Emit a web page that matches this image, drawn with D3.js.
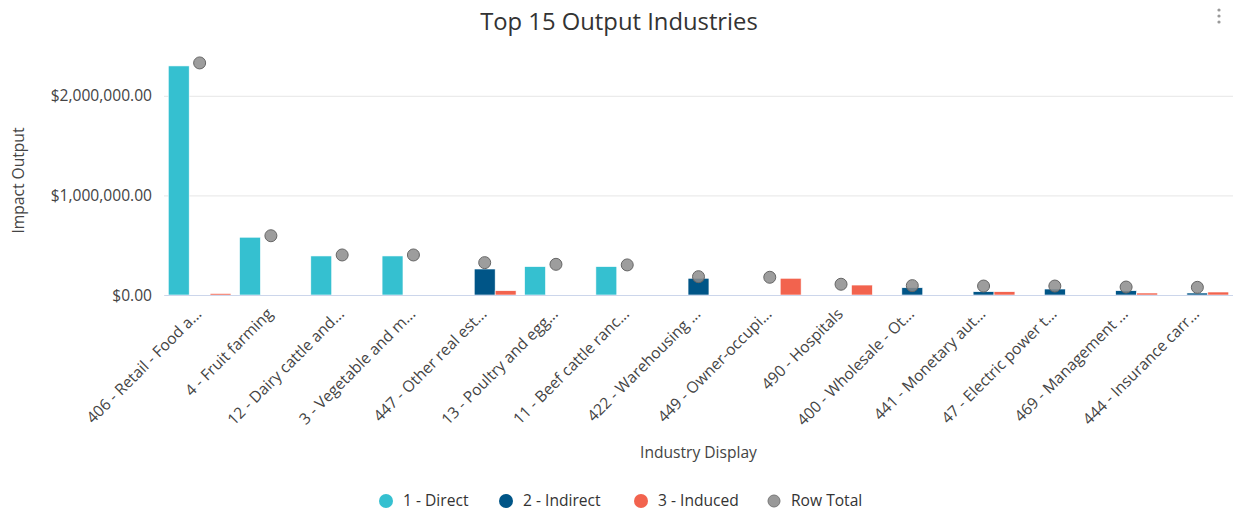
<!DOCTYPE html>
<html>
<head>
<meta charset="utf-8">
<script src="https://cdn.jsdelivr.net/npm/d3@7"></script>
<style>
  html, body { margin: 0; padding: 0; background: #fff; }
  svg { display: block; font-family: "Open Sans", sans-serif; }
</style>
</head>
<body>
<svg id="chart" width="1233" height="512"></svg>
<script>
const categories = [
  "406 - Retail - Food a...", "4 - Fruit farming", "12 - Dairy cattle and...",
  "3 - Vegetable and m...", "447 - Other real est...", "13 - Poultry and egg...",
  "11 - Beef cattle ranc...", "422 - Warehousing ...", "449 - Owner-occupi...",
  "490 - Hospitals", "400 - Wholesale - Ot...", "441 - Monetary aut...",
  "47 - Electric power t...", "469 - Management ...", "444 - Insurance carr..."
];
const direct   = [2300000, 580000, 392000, 392000, 0, 285000, 285000, 0, 0, 0, 0, 0, 0, 0, 0];
const indirect = [0, 0, 0, 0, 261000, 0, 0, 168000, 0, 0, 73000, 33000, 60000, 43000, 20000];
const induced  = [15000, 0, 0, 0, 43000, 0, 0, 0, 168000, 100000, 0, 33000, 0, 20000, 30000];
const rowTotal = [2330000, 595000, 402000, 402000, 325000, 308000, 302000, 184000, 178000, 108000, 94000, 90000, 90000, 80000, 77000];
const yTicks = [0, 1000000, 2000000];
const seriesNames = ["1 - Direct", "2 - Indirect", "3 - Induced"];
const seriesColors = ["#35c0d0", "#005587", "#f2634e"];
const totalName = "Row Total";

(function () {
const svg = d3.select("#chart");
const pLeft = 164, pRight = 1233, pTop = 46, pBottom = 295;
const fs = 15.6;

const x = d3.scaleBand().domain(categories).range([pLeft, pRight]).paddingInner(0.12).paddingOuter(0.06);
const xs = d3.scaleBand().domain(seriesNames).range([0, x.bandwidth()]);
const y = d3.scaleLinear().domain([0, 2500000]).range([pBottom, pTop]);

// Title
svg.append("text").attr("x", 619).attr("y", 30).attr("text-anchor", "middle")
  .attr("font-size", 23.8).attr("fill", "#333").text("Top 15 Output Industries");

// Menu icon
const menu = svg.append("g").attr("fill", "#999");
[10, 16, 22].forEach(cy => menu.append("circle").attr("cx", 1219).attr("cy", cy).attr("r", 1.6));

// Grid + y axis
const yAxis = d3.axisLeft(y).tickValues(yTicks).tickSize(-(pRight - pLeft))
  .tickFormat(d => "$" + d3.format(",.2f")(d));
const gy = svg.append("g").attr("transform", `translate(${pLeft},0)`).call(yAxis);
gy.select(".domain").remove();
gy.selectAll(".tick line").attr("stroke", "#e6e6e6");
gy.selectAll(".tick text").attr("x", -12).attr("font-size", fs).attr("fill", "#444")
  .attr("font-family", "Open Sans, sans-serif");

// Y title
svg.append("text").attr("transform", `translate(24,${(pTop + pBottom) / 2 + 10}) rotate(-90)`)
  .attr("text-anchor", "middle").attr("font-size", fs).attr("fill", "#444").text("Impact Output");

// Bars
const seriesData = [direct, indirect, induced];
const gBars = svg.append("g");
seriesData.forEach((vals, si) => {
  gBars.selectAll(null).data(categories.map((c, i) => ({ c, v: vals[i] })).filter(d => d.v > 0))
    .enter().append("rect")
    .attr("x", d => x(d.c) + xs(seriesNames[si]))
    .attr("width", xs.bandwidth())
    .attr("y", d => y(d.v))
    .attr("height", d => pBottom - y(d.v))
    .attr("fill", seriesColors[si])
    .attr("stroke", "#fff").attr("stroke-width", 0.6);
});

// X axis line
const xAxis = d3.axisBottom(x).tickSize(0).tickFormat("");
const gx = svg.append("g").attr("transform", `translate(0,${pBottom})`).call(xAxis);
gx.select(".domain").attr("stroke", "#ccd6eb");

// X labels
svg.append("g").selectAll("text").data(categories).enter().append("text")
  .attr("transform", d => `translate(${x(d) + x.bandwidth() / 2 - 1},${pBottom + 16}) rotate(-45)`)
  .attr("text-anchor", "end").attr("dy", "0.35em")
  .attr("font-size", fs).attr("fill", "#444").text(d => d);

// X title
svg.append("text").attr("x", (pLeft + pRight) / 2).attr("y", 458).attr("text-anchor", "middle")
  .attr("font-size", fs).attr("fill", "#444").text("Industry Display");

// Row total points
svg.append("g").selectAll("circle").data(categories.map((c, i) => ({ c, v: rowTotal[i] })))
  .enter().append("circle")
  .attr("cx", d => x(d.c) + x.bandwidth() / 2)
  .attr("cy", d => y(d.v))
  .attr("r", 6)
  .attr("fill", "rgba(140,140,140,0.85)")
  .attr("stroke", "#666").attr("stroke-width", 1);

// Legend
const legendItems = [
  { name: seriesNames[0], color: seriesColors[0], cx: 386, r: 7 },
  { name: seriesNames[1], color: seriesColors[1], cx: 506, r: 7 },
  { name: seriesNames[2], color: seriesColors[2], cx: 641, r: 7 },
  { name: totalName, color: "#999", cx: 774, r: 6, stroke: "#777" }
];
const lg = svg.append("g");
legendItems.forEach(it => {
  lg.append("circle").attr("cx", it.cx).attr("cy", 501).attr("r", it.r)
    .attr("fill", it.color).attr("stroke", it.stroke || "none");
  lg.append("text").attr("x", it.cx + 17).attr("y", 501).attr("dy", "0.35em")
    .attr("font-size", fs).attr("fill", "#333").text(it.name);
});
})();
</script>
</body>
</html>
